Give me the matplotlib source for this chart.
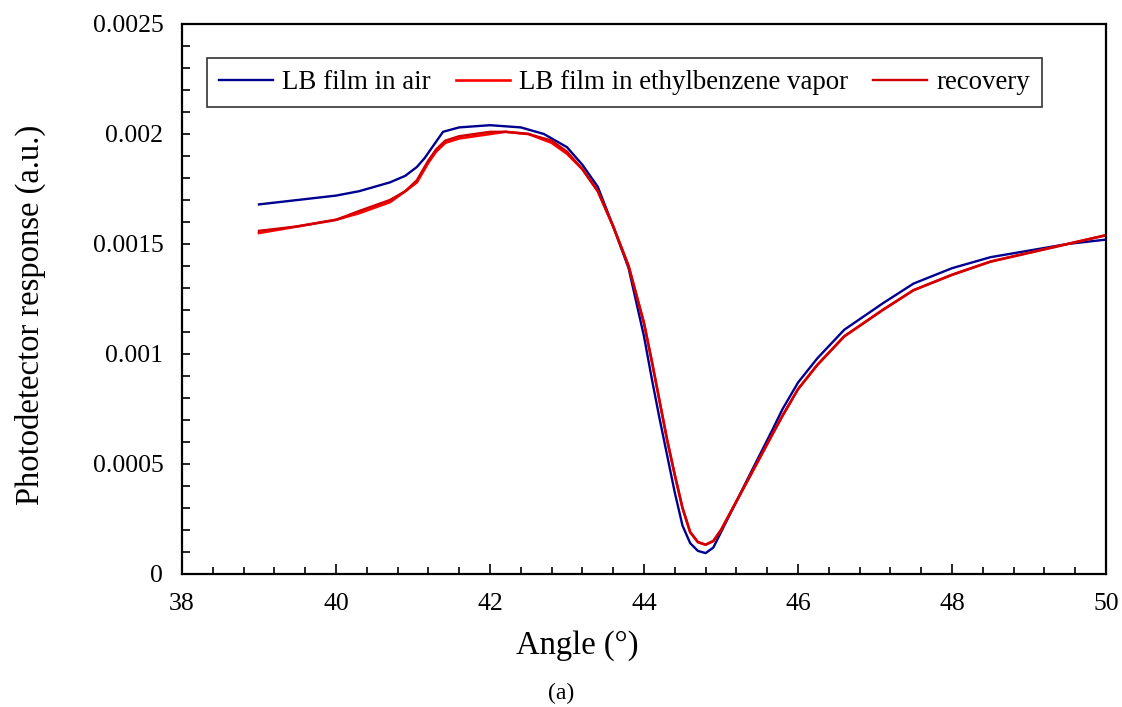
import numpy as np
import matplotlib
matplotlib.use('Agg')
import matplotlib.pyplot as plt
from matplotlib.ticker import MultipleLocator

plt.rcParams.update({
    'font.family': 'serif',
    'font.serif': ['Liberation Serif', 'DejaVu Serif'],
})

# -- SPR angular scans --
angle_air = [39.0, 39.5, 40.0, 40.3, 40.7, 40.9, 41.05, 41.15, 41.25, 41.39,
             41.6, 42.0, 42.4, 42.7, 43.0, 43.2, 43.4, 43.6, 43.8, 44.0,
             44.1, 44.2, 44.3, 44.4, 44.5, 44.6, 44.7, 44.8, 44.9, 45.0,
             45.2, 45.4, 45.66, 45.8, 46.0, 46.25, 46.6, 47.1, 47.5, 48.0,
             48.5, 49.0, 49.5, 50.0]
resp_air = [0.00168, 0.00170, 0.00172, 0.00174, 0.00178, 0.00181, 0.00185,
            0.00189, 0.00194, 0.00201, 0.00203, 0.00204, 0.00203, 0.00200,
            0.00194, 0.00186, 0.00176, 0.00158, 0.00139, 0.00108, 0.00089,
            0.00071, 0.00054, 0.00037, 0.00022, 0.00014, 0.000105, 0.000095,
            0.00012, 0.00019, 0.00033, 0.00047, 0.00065, 0.00075, 0.00087,
            0.00098, 0.00111, 0.00123, 0.00132, 0.00139, 0.00144, 0.00147,
            0.00150, 0.00152]

angle_vap = [39.0, 39.5, 40.0, 40.3, 40.7, 40.9, 41.05, 41.2, 41.3, 41.42,
             41.6, 42.0, 42.2, 42.5, 42.8, 43.0, 43.2, 43.4, 43.6, 43.8,
             44.0, 44.1, 44.2, 44.3, 44.4, 44.5, 44.6, 44.7, 44.8, 44.9,
             45.0, 45.2, 45.4, 45.66, 45.8, 46.0, 46.25, 46.6, 47.1, 47.5,
             48.0, 48.5, 49.0, 49.5, 50.0]
resp_vap = [0.00155, 0.00158, 0.00161, 0.00164, 0.00169, 0.00174, 0.00178,
            0.00187, 0.00192, 0.00196, 0.00198, 0.00200, 0.00201, 0.00200,
            0.00196, 0.00191, 0.00184, 0.00174, 0.00158, 0.00140, 0.00114,
            0.00097, 0.00079, 0.00061, 0.00045, 0.00030, 0.00019, 0.000145,
            0.000133, 0.000150, 0.00020, 0.00033, 0.00046, 0.00063, 0.00072,
            0.00084, 0.00095, 0.00108, 0.00120, 0.00129, 0.00136, 0.00142,
            0.00146, 0.00150, 0.00154]

angle_rec = angle_vap
resp_rec = [0.00156, 0.00158, 0.00161, 0.00165, 0.00170, 0.00174, 0.00179,
            0.00188, 0.00193, 0.00197, 0.00199, 0.00201, 0.00201, 0.00200,
            0.00197, 0.00192, 0.00184, 0.00174, 0.00158, 0.00140, 0.00114,
            0.00097, 0.00079, 0.00061, 0.00045, 0.00030, 0.00019, 0.000145,
            0.000133, 0.000150, 0.00020, 0.00033, 0.00046, 0.00063, 0.00072,
            0.00084, 0.00095, 0.00108, 0.00120, 0.00129, 0.00136, 0.00142,
            0.00146, 0.00150, 0.00154]

fig = plt.figure(figsize=(11.22, 7.07), dpi=100)
ax = fig.add_axes([182 / 1122, 1 - 574 / 707, 924 / 1122, 550 / 707])

ax.plot(angle_air, resp_air, color='#000090', lw=1.7, label='LB film in air')
ax.plot(angle_vap, resp_vap, color='#ff0000', lw=1.9,
        label='LB film in ethylbenzene vapor')
ax.plot(angle_rec, resp_rec, color='#d00000', lw=1.7, label='recovery')

ax.set_xlim(38, 50)
ax.set_ylim(0, 0.0025)
ax.xaxis.set_major_locator(MultipleLocator(2))
ax.xaxis.set_minor_locator(MultipleLocator(0.4))
ax.yaxis.set_minor_locator(MultipleLocator(0.0001))
ax.set_yticks([0, 0.0005, 0.001, 0.0015, 0.002, 0.0025])
ax.set_yticklabels(['0', '0.0005', '0.001', '0.0015', '0.002', '0.0025'])

ax.tick_params(which='both', direction='in', top=False, right=False,
               labelsize=18.5, width=1.2)
ax.tick_params(axis='x', which='major', length=7, pad=14)
ax.tick_params(axis='x', which='minor', length=5)
ax.tick_params(axis='y', which='both', length=6, pad=13.5)
for s in ax.spines.values():
    s.set_linewidth(1.6)

ax.set_xlabel('Angle (°)', fontsize=23.5)
ax.set_ylabel('Photodetector response (a.u.)', fontsize=23.5)
ax.xaxis.set_label_coords(0.4275, -0.102)
ax.yaxis.set_label_coords(-0.147, 0.471)

leg = ax.legend(loc='upper left', bbox_to_anchor=(0.027, 0.938), ncol=3,
                fontsize=19.4, frameon=True, fancybox=False, edgecolor='black',
                handlelength=2.0, handletextpad=0.35, columnspacing=0.92,
                borderaxespad=0, borderpad=0.45)
leg.get_frame().set_linewidth(1.2)

fig.text(561 / 1122, 1 - 693 / 707, '(a)', fontsize=17, ha='center', va='center')

fig.savefig('out.png', dpi=100)
